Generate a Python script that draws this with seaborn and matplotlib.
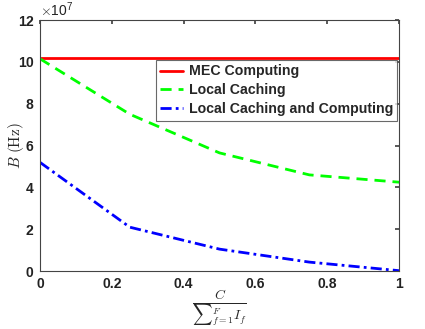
import matplotlib
matplotlib.use("Agg")
import matplotlib.pyplot as plt
import seaborn as sns
import pandas as pd
from matplotlib.ticker import ScalarFormatter

sns.set_theme(style="white")
plt.rcParams['font.family'] = ['Liberation Sans', 'DejaVu Sans']
plt.rcParams['mathtext.fontset'] = 'cm'

x_vals = [0, 0.25, 0.5, 0.75, 1.0]
mec = [10.18e7, 10.18e7, 10.18e7, 10.18e7, 10.18e7]
local_caching = [10.15e7, 7.5e7, 5.65e7, 4.6e7, 4.25e7]
local_cc = [5.2e7, 2.1e7, 1.05e7, 0.43e7, 0.02e7]
labels = ["MEC Computing", "Local Caching", "Local Caching and Computing"]

df = pd.concat([
    pd.DataFrame({"x": x_vals, "y": mec, "s": labels[0]}),
    pd.DataFrame({"x": x_vals, "y": local_caching, "s": labels[1]}),
    pd.DataFrame({"x": x_vals, "y": local_cc, "s": labels[2]}),
])

fig = plt.figure(figsize=(4.25, 3.29), dpi=100)
ax = fig.add_axes([0.094, 0.176, 0.845, 0.763])
palette = {labels[0]: "#ff0000", labels[1]: "#00ff00", labels[2]: "#0000ff"}
sns.lineplot(data=df, x="x", y="y", hue="s", palette=palette, ax=ax, lw=2, legend=True)
styles = ['-', (0, (4, 2.5)), (0, (4, 1.5, 1, 1.5))]
for line, st in zip(ax.get_lines(), styles):
    line.set_linestyle(st)

ax.set_xlim(0, 1)
ax.set_ylim(0, 12e7)
ax.set_xticks([0, 0.2, 0.4, 0.6, 0.8, 1.0])
ax.set_xticklabels(["0", "0.2", "0.4", "0.6", "0.8", "1"])
ax.set_yticks([0, 2e7, 4e7, 6e7, 8e7, 10e7, 12e7])
fmt = ScalarFormatter(useMathText=True)
fmt.set_powerlimits((7, 7))
ax.yaxis.set_major_formatter(fmt)
ax.yaxis.get_offset_text().set_fontsize(10)
ax.yaxis.get_offset_text().set_color("#222222")

for sp in ax.spines.values():
    sp.set_color("#444444")
    sp.set_linewidth(0.8)
ax.tick_params(direction='in', top=True, right=True, length=3, color="#444444",
               labelsize=10, pad=4)
for t in ax.get_xticklabels() + ax.get_yticklabels():
    t.set_fontweight('bold')
    t.set_color("#222222")

ax.set_xlabel(r"$\frac{C}{{\sum}_{f=1}^{F} I_f}$", fontsize=14)
ax.xaxis.set_label_coords(0.5, -0.065, transform=ax.transAxes)
ax.xaxis.label.set_va('top')
ax.set_ylabel(r"$B\ \mathrm{(Hz)}$", fontsize=11)
ax.yaxis.set_label_coords(-0.038, 0.5)

handles, lbls = ax.get_legend_handles_labels()
for h, st in zip(handles, styles):
    h.set_linestyle(st)
leg = ax.legend(handles, lbls, loc="upper right", bbox_to_anchor=(0.995, 0.84),
                frameon=True, fancybox=False, edgecolor="#444444",
                prop={'weight': 'bold', 'size': 10.2}, handlelength=1.6,
                borderpad=0.3, labelspacing=0.35, handletextpad=0.4, borderaxespad=0)
leg.get_frame().set_linewidth(0.8)

fig.savefig("out.png", dpi=100)
